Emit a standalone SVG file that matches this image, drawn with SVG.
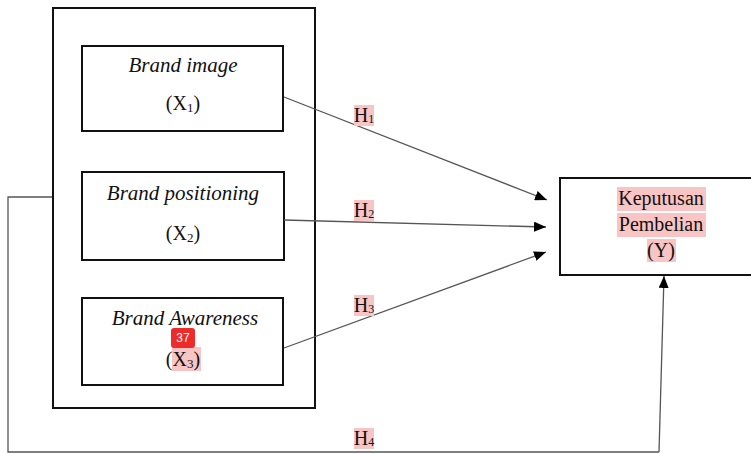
<svg xmlns="http://www.w3.org/2000/svg" width="751" height="454" viewBox="0 0 751 454">
<style>
.box{fill:none;stroke:#111;stroke-width:2}
.t{font-family:"Liberation Serif","Times New Roman",serif;font-size:20px;fill:#111;text-anchor:middle}
.i{font-style:italic;font-size:21px}
.hl{fill:#f9c4c4}
.ln{fill:none;stroke:#555;stroke-width:1.3}
.badge{fill:#ee2b2b}
.bt{font-family:"Liberation Sans",sans-serif;font-size:12px;fill:#fff;text-anchor:middle}
</style>
<defs>
<marker id="ah" viewBox="0 0 12 10" refX="12" refY="5" markerWidth="12" markerHeight="10" markerUnits="userSpaceOnUse" orient="auto">
<path d="M0,0 L12,5 L0,10 Z" fill="#000"/>
</marker>
</defs>
<rect width="751" height="454" fill="#fff"/>
<g id="outer"><rect class="box" x="53" y="8" width="262" height="400"/></g>
<g id="x1">
<rect class="box" x="82" y="46" width="201" height="85"/>
<text class="t i" x="183" y="72">Brand image</text>
<text class="t" x="183" y="110">(X<tspan font-size="13" dy="2">1</tspan><tspan dy="-2">)</tspan></text>
</g>
<g id="x2">
<rect class="box" x="82" y="172" width="202" height="88"/>
<text class="t i" x="183" y="200">Brand positioning</text>
<text class="t" x="183" y="240">(X<tspan font-size="13" dy="2">2</tspan><tspan dy="-2">)</tspan></text>
</g>
<g id="x3">
<rect class="box" x="82" y="298" width="201" height="87"/>
<text class="t i" x="185" y="325">Brand Awareness</text>
<rect class="hl" x="172" y="347" width="29" height="24"/>
<text class="t" x="183" y="366">(X<tspan font-size="13" dy="2">3</tspan><tspan dy="-2">)</tspan></text>
<rect class="badge" x="171" y="328" width="24" height="20" rx="3"/>
<text class="bt" x="183" y="342">37</text>
</g>
<g id="y">
<rect class="box" x="560" y="178" width="200" height="97"/>
<rect class="hl" x="617" y="187" width="89" height="24"/>
<rect class="hl" x="617" y="213" width="89" height="24"/>
<rect class="hl" x="647" y="239" width="29" height="23"/>
<text class="t" x="661" y="205">Keputusan</text>
<text class="t" x="661" y="231">Pembelian</text>
<text class="t" x="661" y="257">(Y)</text>
</g>
<g id="connectors">
<line class="ln" x1="284" y1="97" x2="547" y2="200" marker-end="url(#ah)"/>
<line class="ln" x1="284" y1="220" x2="546" y2="227" marker-end="url(#ah)"/>
<line class="ln" x1="284" y1="348" x2="546" y2="252" marker-end="url(#ah)"/>
<polyline class="ln" points="52,197 8,197 8,452 659,452"/>
<line class="ln" x1="659" y1="452" x2="664" y2="276" marker-end="url(#ah)"/>
</g>
<g id="labels">
<rect class="hl" x="354" y="105" width="20" height="21"/>
<text class="t" x="364" y="122">H<tspan font-size="12" dy="1">1</tspan></text>
<rect class="hl" x="354" y="200" width="20" height="21"/>
<text class="t" x="364" y="217">H<tspan font-size="12" dy="1">2</tspan></text>
<rect class="hl" x="354" y="295" width="20" height="21"/>
<text class="t" x="364" y="312">H<tspan font-size="12" dy="1">3</tspan></text>
<rect class="hl" x="354" y="428" width="20" height="21"/>
<text class="t" x="364" y="445">H<tspan font-size="12" dy="1">4</tspan></text>
</g>
</svg>
